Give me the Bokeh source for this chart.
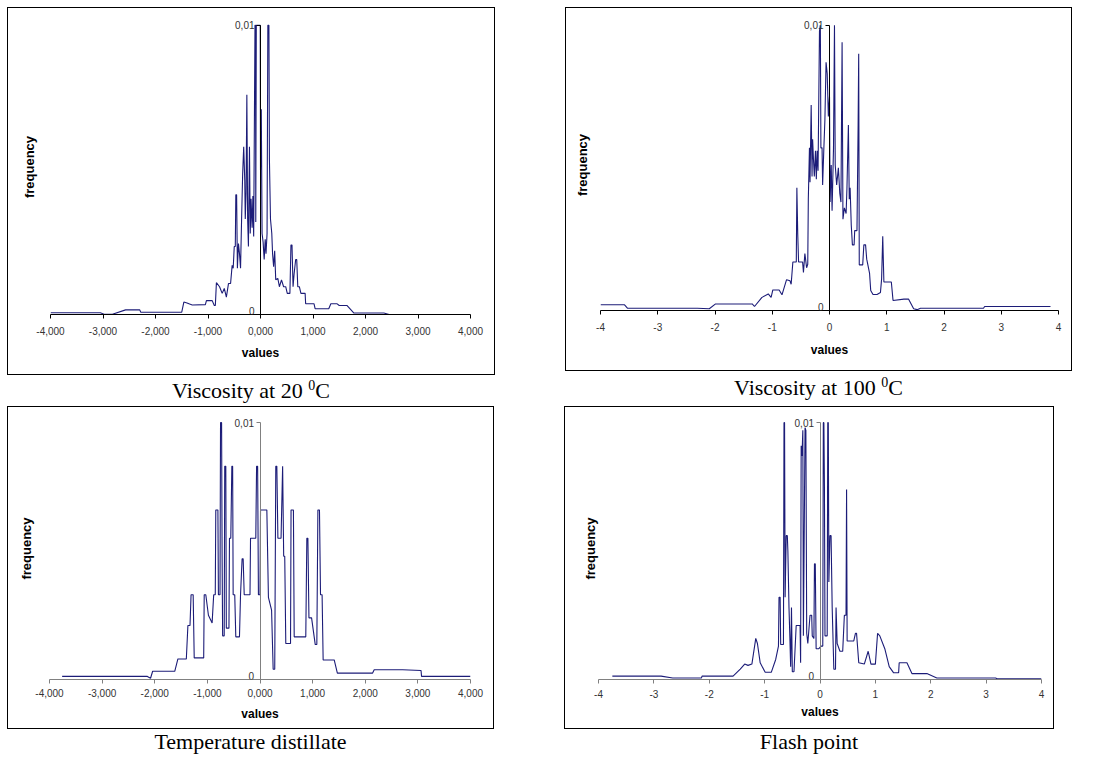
from bokeh.plotting import figure
from bokeh.models import Range1d, FixedTicker, LinearAxis, Div, Spacer, Label
from bokeh.layouts import column, row
from bokeh.embed import file_html
from bokeh.resources import INLINE

# ---------------- data ----------------
visc20_x = [-4.00, -3.05, -2.98, -2.82, -2.57, -2.30, -2.28, -1.50, -1.46, -1.40, -1.35, -1.30, -1.05, -1.03,
            -0.92, -0.88, -0.86, -0.84, -0.78, -0.73, -0.69, -0.65, -0.61, -0.57, -0.54, -0.52, -0.50, -0.48,
            -0.47, -0.455, -0.44, -0.42, -0.40, -0.38, -0.36, -0.34, -0.32, -0.30, -0.29, -0.275, -0.26, -0.245,
            -0.23, -0.21, -0.195, -0.18, -0.16, -0.145, -0.13, -0.105, -0.095, -0.09, -0.08, -0.005, 0.0, 0.015,
            0.03, 0.05, 0.07, 0.09, 0.105, 0.125, 0.14, 0.16, 0.17, 0.19, 0.215, 0.23, 0.25, 0.27, 0.29, 0.33,
            0.36, 0.40, 0.44, 0.48, 0.51, 0.56, 0.58, 0.60, 0.62, 0.64, 0.67, 0.69, 0.71, 0.74, 0.77, 0.85, 0.86,
            1.02, 1.04, 1.30, 1.34, 1.46, 1.50, 1.65, 1.78, 2.35, 2.45]
visc20_y = [0.00006, 0.00006, 0.00001, 0.00001, 0.00016, 0.00016, 0.00008, 0.00008, 0.00043, 0.00040, 0.00036,
            0.00033, 0.00034, 0.00048, 0.00048, 0.00031, 0.00031, 0.00110, 0.00096, 0.00073, 0.00090, 0.00060,
            0.00107, 0.00107, 0.00170, 0.00160, 0.00235, 0.00235, 0.00414, 0.00414, 0.00160, 0.00245, 0.00210,
            0.00160, 0.00330, 0.00485, 0.00580, 0.00465, 0.00330, 0.00420, 0.00760, 0.00330, 0.00235, 0.00580,
            0.00280, 0.00400, 0.00300, 0.00410, 0.00270, 0.01000, 0.01000, 0.00320, 0.01000, 0.01000, 0.00500,
            0.00710, 0.00280, 0.00250, 0.00190, 0.00260, 0.00210, 0.00280, 0.01000, 0.01000, 0.00535, 0.00330,
            0.00280, 0.00210, 0.00165, 0.00220, 0.00120, 0.00125, 0.00096, 0.00120, 0.00096, 0.00096, 0.00073,
            0.00073, 0.00240, 0.00240, 0.00096, 0.00140, 0.00190, 0.00190, 0.00096, 0.00096, 0.00073, 0.00073,
            0.00037, 0.00037, 0.00020, 0.00020, 0.00037, 0.00037, 0.00031, 0.00031, 0.00005, 0.00005, 0.00000]

visc100_x = [-4.00, -3.58, -3.53, -2.31, -2.10, -1.99, -1.35, -1.31, -1.18, -1.07, -1.02, -0.99, -0.88, -0.83,
             -0.75, -0.69, -0.67, -0.64, -0.58, -0.57, -0.555, -0.54, -0.47, -0.455, -0.43, -0.40, -0.38, -0.37,
             -0.35, -0.34, -0.32, -0.305, -0.295, -0.28, -0.265, -0.245, -0.23, -0.215, -0.20, -0.175, -0.16,
             -0.15, -0.13, -0.12, -0.10, -0.08, -0.06, -0.04, -0.02, 0.0, 0.01, 0.03, 0.045, 0.07, 0.087, 0.10,
             0.125, 0.155, 0.18, 0.20, 0.22, 0.235, 0.26, 0.29, 0.305, 0.33, 0.345, 0.36, 0.38, 0.40, 0.43, 0.44,
             0.48, 0.50, 0.51, 0.52, 0.58, 0.60, 0.63, 0.65, 0.70, 0.72, 0.76, 0.83, 0.89, 0.91, 0.93, 0.95, 1.08,
             1.11, 1.30, 1.38, 1.47, 1.53, 1.59, 2.69, 2.71, 3.86]
visc100_y = [0.00020, 0.00020, 0.00008, 0.00008, 0.00006, 0.00023, 0.00023, 0.00014, 0.00046, 0.00058, 0.00046,
             0.00072, 0.00072, 0.00055, 0.00108, 0.00104, 0.00092, 0.00170, 0.00170, 0.00430, 0.00270, 0.00170,
             0.00170, 0.00133, 0.00200, 0.00150, 0.00162, 0.00390, 0.00570, 0.00450, 0.00720, 0.00470, 0.00600,
             0.00530, 0.00470, 0.00560, 0.00460, 0.00560, 0.00490, 0.00980, 0.01000, 0.00570, 0.00570, 0.00440,
             0.00560, 0.00670, 0.00870, 0.00830, 0.00680, 0.00750, 0.00380, 0.00510, 0.00350, 0.00570, 0.01000,
             0.00510, 0.00440, 0.00500, 0.00410, 0.00380, 0.00940, 0.00320, 0.00360, 0.00340, 0.00430, 0.00650,
             0.00390, 0.00430, 0.00300, 0.00230, 0.00230, 0.00280, 0.00280, 0.00650, 0.00900, 0.00160, 0.00160,
             0.00230, 0.00230, 0.00180, 0.00130, 0.00070, 0.00056, 0.00056, 0.00063, 0.00110, 0.00260, 0.00100,
             0.00100, 0.00035, 0.00040, 0.00040, 0.00006, 0.00003, 0.00008, 0.00008, 0.00014, 0.00014]

temp_x = [-3.76, -2.14, -2.08, -2.04, -1.62, -1.56, -1.40, -1.37, -1.33, -1.31, -1.27, -1.25, -1.07, -1.06, -1.03,
          -0.98, -0.91, -0.88, -0.85, -0.84, -0.80, -0.79, -0.76, -0.75, -0.73, -0.72, -0.71, -0.68, -0.67, -0.65,
          -0.64, -0.59, -0.58, -0.555, -0.535, -0.52, -0.51, -0.48, -0.46, -0.39, -0.37, -0.34, -0.32, -0.30,
          -0.19, -0.18, -0.08, -0.065, -0.045, -0.03, 0.0, 0.01, 0.13, 0.16, 0.22, 0.25, 0.28, 0.30, 0.32, 0.34,
          0.40, 0.43, 0.45, 0.47, 0.49, 0.58, 0.59, 0.635, 0.65, 0.87, 0.89, 0.91, 0.93, 0.98, 1.05, 1.08, 1.10,
          1.13, 1.15, 1.18, 1.20, 1.41, 1.47, 2.14, 2.17, 2.71, 3.06, 3.07, 4.00]
temp_y = [0.00012, 0.00012, 0.00005, 0.00032, 0.00032, 0.00080, 0.00080, 0.00210, 0.00210, 0.00330, 0.00330,
          0.00084, 0.00084, 0.00330, 0.00330, 0.00250, 0.00220, 0.00330, 0.00330, 0.00660, 0.00660, 0.00330,
          0.00330, 0.01000, 0.01000, 0.00480, 0.00170, 0.00170, 0.00830, 0.00830, 0.00200, 0.00200, 0.00550,
          0.00550, 0.00830, 0.00830, 0.00330, 0.00330, 0.00166, 0.00166, 0.00330, 0.00470, 0.00470, 0.00330,
          0.00330, 0.00550, 0.00550, 0.00830, 0.00830, 0.00330, 0.00330, 0.00660, 0.00660, 0.00320, 0.00270,
          0.00040, 0.00040, 0.00830, 0.00830, 0.00550, 0.00550, 0.00830, 0.00480, 0.00480, 0.00140, 0.00140,
          0.00660, 0.00660, 0.00166, 0.00166, 0.00550, 0.00550, 0.00240, 0.00240, 0.00136, 0.00136, 0.00660,
          0.00660, 0.00330, 0.00330, 0.00076, 0.00076, 0.00025, 0.00025, 0.00038, 0.00038, 0.00035, 0.00012,
          0.00012]

flash_x = [-3.75, -2.87, -2.66, -2.14, -2.13, -1.57, -1.44, -1.36, -1.30, -1.23, -1.16, -1.13, -1.08, -0.99,
           -0.88, -0.80, -0.75, -0.74, -0.72, -0.71, -0.66, -0.65, -0.64, -0.63, -0.61, -0.59, -0.58, -0.56,
           -0.545, -0.53, -0.515, -0.50, -0.47, -0.45, -0.43, -0.36, -0.35, -0.34, -0.325, -0.31, -0.30, -0.27,
           -0.255, -0.24, -0.22, -0.18, -0.15, -0.14, -0.11, -0.10, -0.085, -0.07, -0.02, 0.02, 0.05, 0.06, 0.07,
           0.08, 0.09, 0.13, 0.14, 0.15, 0.16, 0.18, 0.20, 0.22, 0.25, 0.28, 0.29, 0.31, 0.36, 0.41, 0.44, 0.47,
           0.48, 0.49, 0.61, 0.64, 0.66, 0.70, 0.80, 0.87, 0.92, 1.00, 1.04, 1.08, 1.17, 1.25, 1.33, 1.42, 1.43,
           1.57, 1.66, 1.93, 2.11, 3.17, 3.20, 4.00]
flash_y = [0.00013, 0.00013, 0.00006, 0.00006, 0.00013, 0.00013, 0.00040, 0.00060, 0.00055, 0.00060, 0.00160,
           0.00140, 0.00065, 0.00028, 0.00028, 0.00078, 0.00130, 0.00320, 0.00320, 0.00136, 0.00136, 0.01000,
           0.01000, 0.00320, 0.00560, 0.00560, 0.00500, 0.00280, 0.00170, 0.00050, 0.00280, 0.00030, 0.00030,
           0.00120, 0.00210, 0.00210, 0.00065, 0.00910, 0.00870, 0.00970, 0.00170, 0.00980, 0.00970, 0.00180,
           0.00140, 0.00250, 0.00250, 0.00170, 0.00160, 0.00450, 0.00450, 0.00120, 0.00120, 0.00130, 0.00130,
           0.01000, 0.01000, 0.00750, 0.00170, 0.00170, 0.01000, 0.01000, 0.00380, 0.00560, 0.00560, 0.00280,
           0.00040, 0.00040, 0.00280, 0.00140, 0.00110, 0.00110, 0.00250, 0.00250, 0.00740, 0.00150, 0.00150,
           0.00180, 0.00180, 0.00065, 0.00060, 0.00110, 0.00060, 0.00060, 0.00180, 0.00170, 0.00120, 0.00050,
           0.00026, 0.00026, 0.00065, 0.00065, 0.00023, 0.00023, 0.00006, 0.00006, 0.00003, 0.00003]

x_ticks = [-4, -3, -2, -1, 0, 1, 2, 3, 4]
x_labels_dec = ["-4,000", "-3,000", "-2,000", "-1,000", "0,000", "1,000", "2,000", "3,000", "4,000"]
x_labels_int = ["-4", "-3", "-2", "-1", "0", "1", "2", "3", "4"]
y_ticks = [0, 0.01]
y_labels = ["0", "0,01"]
captions = ["Viscosity at 20 <sup style='font-size:14px;line-height:0'>0</sup>C",
            "Viscosity at 100 <sup style='font-size:14px;line-height:0'>0</sup>C",
            "Temperature distillate",
            "Flash point"]

SANS = "Liberation Sans"
LINE = "#1c1c78"
Y_TOP = 0.0102   # a little headroom so the "0,01" label is not clipped


def make_panel(xs, ys, w, h, bl, br, bt, bb, xlabels, axis_color,
               freq_standoff, tick_standoff, label_standoff):
    p = figure(width=w, height=h, x_range=Range1d(-4, 4), y_range=Range1d(0, Y_TOP),
               output_backend="svg", toolbar_location=None, title=None,
               min_border_left=bl, min_border_right=br, min_border_top=bt, min_border_bottom=bb,
               outline_line_color=None, background_fill_color="white", border_fill_color="white",
               styles={"outline": "1px solid #000000", "outline-offset": "0px"})
    p.xgrid.visible = False
    p.ygrid.visible = False

    xa = p.xaxis[0]
    xa.ticker = FixedTicker(ticks=x_ticks)
    xa.major_label_overrides = {t: l for t, l in zip(x_ticks, xlabels)}
    xa.minor_tick_line_color = None
    xa.major_tick_in = 0
    xa.major_tick_out = 4
    xa.axis_line_color = axis_color
    xa.major_tick_line_color = axis_color
    xa.major_label_text_font = SANS
    xa.major_label_text_font_size = "10px"
    xa.major_label_text_color = "#333333"
    xa.major_label_standoff = tick_standoff
    xa.axis_label = "values"
    xa.axis_label_text_font = SANS
    xa.axis_label_text_font_size = "12px"
    xa.axis_label_text_font_style = "bold"
    xa.axis_label_text_color = "#000000"
    xa.axis_label_standoff = label_standoff

    # left axis only carries the "frequency" label
    ya = p.yaxis[0]
    ya.ticker = FixedTicker(ticks=[])
    ya.axis_line_color = None
    ya.major_tick_line_color = None
    ya.minor_tick_line_color = None
    ya.major_tick_out = 0
    ya.major_tick_in = 0
    ya.major_label_standoff = 0
    ya.axis_label = "frequency"
    ya.axis_label_text_font = SANS
    ya.axis_label_text_font_size = "13px"
    ya.axis_label_text_font_style = "bold"
    ya.axis_label_text_color = "#000000"
    ya.axis_label_standoff = freq_standoff

    # value axis crossing at x = 0 (line + ticks); its labels are drawn as Labels
    y0 = LinearAxis(fixed_location=0, ticker=FixedTicker(ticks=y_ticks), bounds=(0, 0.01),
                    major_label_overrides={t: "" for t in y_ticks},
                    axis_line_color=axis_color, major_tick_line_color=axis_color,
                    minor_tick_line_color=None, major_tick_in=0, major_tick_out=4,
                    major_label_standoff=0, major_label_text_font_size="0px")
    p.add_layout(y0, "left")
    for t, l in zip(y_ticks, y_labels):
        base = "middle" if t > 0 else "bottom"
        p.add_layout(Label(x=0, y=t, text=l, x_offset=-6, y_offset=0, text_align="right",
                           text_baseline=base, text_font=SANS, text_font_size="10px",
                           text_color="#333333"))

    p.line(xs, ys, line_color=LINE, line_width=1.1)
    return p


def caption(text, w, h, shift):
    return Div(text=("<div style=\"font-family:'Liberation Serif','Times New Roman',serif;"
                     "font-size:22px;color:#000;text-align:center;width:%dpx;height:%dpx;"
                     "line-height:%dpx;position:relative;top:%dpx;white-space:nowrap;\">%s</div>")
                    % (w, h, h, shift, text),
               width=w, height=h, margin=0)


p1 = make_panel(visc20_x, visc20_y, 486, 366, 42, 24, 11, 60, x_labels_dec, "#000000", 14, 8, 8)
p2 = make_panel(visc100_x, visc100_y, 505, 362, 34, 13, 11, 57, x_labels_int, "#000000", 11, 8, 9)
p3 = make_panel(temp_x, temp_y, 485, 321, 41, 23, 10, 49, x_labels_dec, "#808080", 16, 5, 7)
p4 = make_panel(flash_x, flash_y, 488, 321, 33, 12, 10, 49, x_labels_int, "#808080", 1, 6, 4)

layout = column(
    Spacer(width=10, height=8, margin=0),
    row(Spacer(width=8, height=10, margin=0), p1, Spacer(width=72, height=10, margin=0), p2),
    row(Spacer(width=8, height=10, margin=0), caption(captions[0], 486, 33, 0),
        Spacer(width=72, height=10, margin=0), caption(captions[1], 505, 33, -3)),
    row(Spacer(width=8, height=10, margin=0), p3, Spacer(width=72, height=10, margin=0), p4),
    row(Spacer(width=8, height=10, margin=0), caption(captions[2], 485, 28, 0),
        Spacer(width=72, height=10, margin=0), caption(captions[3], 488, 28, 0)),
)

open("out.html", "w").write(file_html(layout, INLINE))
